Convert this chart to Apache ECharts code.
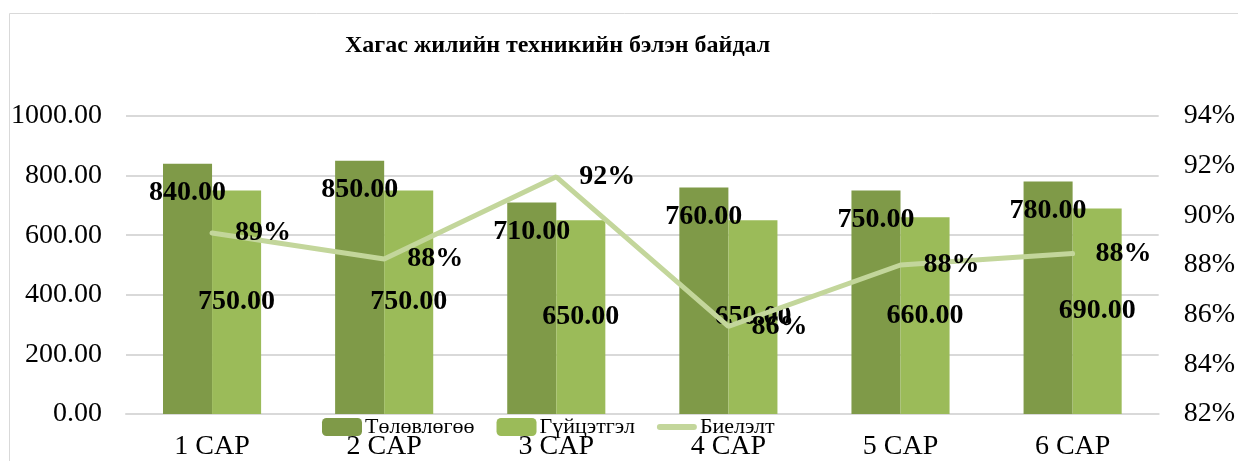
<!DOCTYPE html>
<html>
<head>
<meta charset="utf-8">
<script src="https://cdn.jsdelivr.net/npm/echarts@6/dist/echarts.min.js"></script>
<style>
  html, body { margin: 0; padding: 0; background: #fff; }
  #chart { width: 1238px; height: 461px; }
</style>
</head>
<body>
<div id="chart"></div>
<script>
var categories = ['1 CAP', '2 CAP', '3 CAP', '4 CAP', '5 CAP', '6 CAP'];
var planValues = [840, 850, 710, 760, 750, 780];
var doneValues = [750, 750, 650, 650, 660, 690];
var ratePercent = [89.29, 88.24, 91.55, 85.53, 88.00, 88.46];

var FONT = '"Liberation Serif", "DejaVu Serif", serif';
var chart = echarts.init(document.getElementById('chart'));

var barLabel = function(pos, dist) {
	return {
		show: true,
		position: pos,
		distance: dist,
		fontFamily: FONT,
		fontWeight: 'bold',
		fontSize: 28,
		color: '#000',
		formatter: function(p) { return p.value.toFixed(2); }
	};
};

chart.setOption({
	animation: false,
	textStyle: { fontFamily: FONT },
	graphic: [{
		type: 'rect',
		left: 7, top: 11,
		shape: { width: 1240, height: 460 },
		style: { fill: 'none', stroke: '#d9d9d9', lineWidth: 1 },
		silent: true
	}],
	title: {
		text: 'Хагас жилийн техникийн бэлэн байдал',
		left: 340,
		top: 29,
		textStyle: { fontFamily: FONT, fontWeight: 'bold', fontSize: 24, color: '#000' }
	},
	legend: {
		top: 411,
		left: 317,
		itemWidth: 40,
		itemHeight: 18,
		itemGap: 22,
		textStyle: { fontFamily: FONT, fontSize: 22, color: '#000', padding: [0, 0, 0, -2] },
		data: [
			'Төлөвлөгөө',
			'Гүйцэтгэл',
			{ name: 'Биелэлт', icon: 'path://M3,0 L37,0 A3,3 0 0 1 37,6 L3,6 A3,3 0 0 1 3,0 Z', itemStyle: { color: '#c3d69b' } }
		]
	},
	grid: { left: 126, right: 76, top: 116, bottom: 47 },
	xAxis: {
		type: 'category',
		data: categories,
		axisLine: { lineStyle: { color: '#d9d9d9', width: 2 } },
		axisTick: { show: false },
		axisLabel: { fontFamily: FONT, fontSize: 28, color: '#000', margin: 19 }
	},
	yAxis: [{
		type: 'value',
		min: 0, max: 1000, interval: 200,
		axisLine: { show: false },
		axisTick: { show: false },
		splitLine: { lineStyle: { color: '#d9d9d9', width: 2 } },
		axisLabel: {
			fontFamily: FONT, fontSize: 28, color: '#000', margin: 24,
			formatter: function(v) { return v.toFixed(2); }
		}
	}, {
		type: 'value',
		min: 82, max: 94, interval: 2,
		axisLine: { show: false },
		axisTick: { show: false },
		splitLine: { show: false },
		axisLabel: {
			fontFamily: FONT, fontSize: 28, color: '#000', margin: 25,
			formatter: '{value}%'
		}
	}],
	series: [{
		name: 'Төлөвлөгөө',
		type: 'bar',
		data: planValues,
		barGap: '0%',
		barCategoryGap: '43%',
		itemStyle: { color: '#7f9a48' },
		label: barLabel('insideTop', 15)
	}, {
		name: 'Гүйцэтгэл',
		type: 'bar',
		data: doneValues,
		itemStyle: { color: '#9bbb59' },
		label: barLabel('inside', 0)
	}, {
		name: 'Биелэлт',
		type: 'line',
		yAxisIndex: 1,
		data: ratePercent,
		symbol: 'circle',
		symbolSize: 2,
		showSymbol: true,
		lineStyle: { color: '#c3d69b', width: 5, cap: 'round' },
		itemStyle: { color: '#c3d69b' },
		label: {
			show: true,
			position: 'right',
			distance: 22,
			fontFamily: FONT,
			fontWeight: 'bold',
			fontSize: 28,
			color: '#000',
			formatter: function(p) { return Math.round(p.value) + '%'; }
		},
		z: 3
	}]
});
</script>
</body>
</html>
